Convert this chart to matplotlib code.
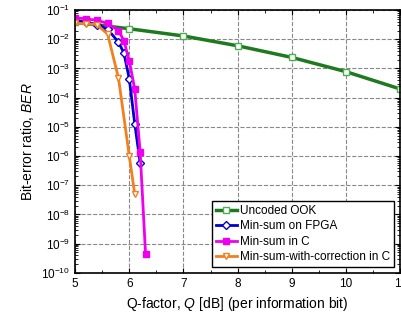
import numpy as np
import matplotlib.pyplot as plt
from matplotlib.ticker import LogLocator, MultipleLocator, NullFormatter

plt.rcParams['font.family'] = 'Liberation Sans'
plt.rcParams['mathtext.fontset'] = 'custom'
plt.rcParams['mathtext.rm'] = 'Liberation Sans'
plt.rcParams['mathtext.it'] = 'Liberation Sans:italic'

# data
q_ook = [5.0, 6.0, 7.0, 8.0, 9.0, 10.0, 11.0]
ber_ook = [3.8e-2, 2.3e-2, 1.3e-2, 6.0e-3, 2.4e-3, 7.8e-4, 2.0e-4]

q_fpga = [5.0, 5.2, 5.4, 5.6, 5.8, 5.9, 6.0, 6.1, 6.2]
ber_fpga = [4.5e-2, 3.8e-2, 3.2e-2, 2.2e-2, 8e-3, 3.4e-3, 4.4e-4, 1.3e-5, 6e-7]

q_c = [5.0, 5.2, 5.4, 5.6, 5.8, 5.9, 6.0, 6.1, 6.2, 6.3]
ber_c = [5.5e-2, 5.0e-2, 4.5e-2, 3.5e-2, 2.0e-2, 9e-3, 1.8e-3, 2e-4, 1.4e-6, 4.5e-10]

q_corr = [5.0, 5.2, 5.4, 5.6, 5.8, 6.0, 6.1]
ber_corr = [3.6e-2, 3.4e-2, 3.2e-2, 1.5e-2, 4.7e-4, 1e-6, 5e-8]

fig = plt.figure(figsize=(4.02, 3.26), dpi=100)
ax = fig.add_axes([0.187, 0.163, 0.808, 0.806])

ax.semilogy(q_ook, ber_ook, color='#1f7a1f', lw=2.5, marker='s', ms=5,
            mfc='white', mec='#4caf50', label='Uncoded OOK')
ax.semilogy(q_fpga, ber_fpga, color='#0000cc', lw=2, marker='D', ms=4,
            mfc='white', mec='#0000cc', label='Min-sum on FPGA')
ax.semilogy(q_c, ber_c, color='#ee00ee', lw=2, marker='s', ms=4.5,
            mfc='#ee00ee', mec='#ee00ee', label='Min-sum in C')
ax.semilogy(q_corr, ber_corr, color='#f08020', lw=2, marker='v', ms=5,
            mfc='white', mec='#f08020', label='Min-sum-with-correction in C')

ax.set_xlim(5, 11)
ax.set_ylim(1e-10, 1e-1)
ax.xaxis.set_major_locator(MultipleLocator(1))
ax.xaxis.set_minor_locator(MultipleLocator(0.5))
ax.yaxis.set_major_locator(LogLocator(base=10, numticks=20))
ax.yaxis.set_minor_locator(LogLocator(base=10, subs=np.arange(2, 10), numticks=20))
ax.yaxis.set_minor_formatter(NullFormatter())
ax.tick_params(which='both', direction='in', top=True, right=True, labelsize=8.5)
ax.grid(True, which='major', linestyle='--', color='#888888', lw=0.8)
for s in ax.spines.values():
    s.set_linewidth(1.2)

ax.set_xlabel(r'Q-factor, $Q$ [dB] (per information bit)', fontsize=10)
ax.set_ylabel(r'Bit-error ratio, $BER$', fontsize=10)

ax.legend(loc='lower right', fontsize=8.5, frameon=True, fancybox=False,
          edgecolor='black', framealpha=1, handlelength=1.8, borderpad=0.3,
          labelspacing=0.3, handletextpad=0.3)

fig.savefig('out.png', dpi=100)
